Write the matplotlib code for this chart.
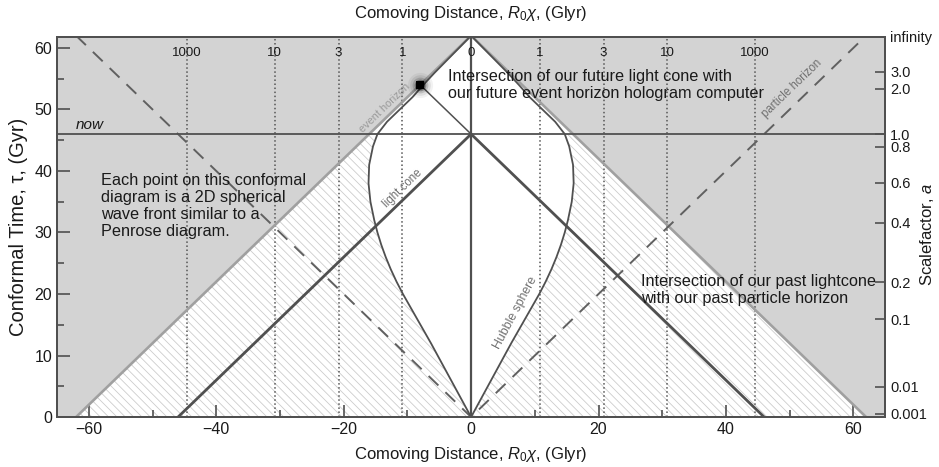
import numpy as np
import matplotlib.pyplot as plt

plt.rcParams['font.family'] = ['Liberation Sans', 'DejaVu Sans']
plt.rcParams['mathtext.fontset'] = 'custom'
plt.rcParams['mathtext.rm'] = 'Liberation Sans'
plt.rcParams['mathtext.it'] = 'Liberation Sans:italic'
plt.rcParams['hatch.linewidth'] = 0.6

# conformal time of the event horizon apex and of today (Gyr)
tau_end = 62
tau_now = 46
# point where our future light cone meets the event horizon
star_chi = -8
star_tau = 54

# redshift lines (top labels) and their comoving distance
redshift_labels = ['1000', '10', '3', '1', '0', '1', '3', '10', '1000']
redshift_chi = [-44.6, -30.8, -20.8, -10.8, 0, 10.8, 20.8, 30.8, 44.6]

# scalefactor axis on the right
scale_tau = [0.5, 4.9, 15.9, 21.9, 31.6, 38.1, 43.9, 46, 53.4, 56.1, 61.8]
scale_labels = ['0.001', '0.01', '0.1', '0.2', '0.4', '0.6', '0.8', '1.0', '2.0', '3.0', 'infinity']

# Hubble sphere
hubble_tau = [0, 4, 8, 12, 16, 18, 20, 22, 24, 26, 28, 30, 32, 35, 38, 41, 44, 46, 48, 50, 52, 54, 56, 58, 60, 61.8]
hubble_chi = [0, 2.1, 4.2, 6.3, 8.5, 9.6, 10.7, 11.7, 12.6, 13.4, 14.1, 14.7, 15.2, 15.8, 16.1, 16.0, 15.4, 14.7, 13.2, 11.2, 9.2, 7.5, 5.7, 3.8, 1.9, 0.2]

dark = '#505050'
txt = '#1a1a1a'

fig = plt.figure(figsize=(9.39, 4.67), dpi=100)
ax = fig.add_axes([0.0607, 0.107, 0.882, 0.814])
ax.set_xlim(-65, 65)
ax.set_ylim(0, 61.8)
ax.set_facecolor('#d3d3d3')

# inside the event horizon
ax.fill([-tau_end, 0, tau_end], [0, tau_end, 0], color='white', zorder=0.5)
# hatched part below now
d = tau_end - tau_now
ax.fill([-tau_end, -d, d, tau_end], [0, tau_now, tau_now, 0], facecolor='white',
        edgecolor='#cccccc', hatch='\\\\\\\\', linewidth=0, zorder=0.6)
# inside the Hubble sphere
hc = np.array(hubble_chi)
ht = np.array(hubble_tau)
ax.fill(np.r_[-hc, hc[::-1]], np.r_[ht, ht[::-1]], color='white', zorder=0.7)

# lines
ax.plot([-tau_end, 0, tau_end], [0, tau_end, 0], color='#a0a0a0', lw=1.9, zorder=2)
ax.plot([-tau_end, 0, tau_end], [tau_end, 0, tau_end], color='#606060', lw=1.4,
        dashes=(7, 5), zorder=2)
ax.plot([-tau_now, 0, tau_now], [0, tau_now, 0], color=dark, lw=2.0, zorder=3)
ax.plot([0, star_chi], [tau_now, star_tau], color=dark, lw=1.1, zorder=3)
ax.axvline(0, color=dark, lw=1.6, zorder=3)
ax.axhline(tau_now, color=dark, lw=1.3, zorder=3)
for c in redshift_chi:
    if c != 0:
        ax.axvline(c, color='#555555', ls=':', lw=1.1, zorder=1.5)
ax.plot(hc, ht, color=dark, lw=1.3, zorder=3)
ax.plot(-hc, ht, color=dark, lw=1.3, zorder=3)

# glowing dot
for s, a in [(330, 0.05), (220, 0.08), (130, 0.15), (70, 0.3), (40, 0.5)]:
    ax.scatter([star_chi], [star_tau], s=s, color='black', alpha=a, lw=0, zorder=4)
ax.scatter([star_chi], [star_tau], s=28, marker='s', color='black', lw=0, zorder=5)

# redshift labels at top
for c, lab in zip(redshift_chi, redshift_labels):
    ax.text(c, 59.2, lab, ha='center', va='center', fontsize=9.5, color=txt, zorder=6)

ax.text(-62.0, 46.4, 'now', fontsize=11, style='italic', color=txt, va='bottom')
ax.text(-3.6, 56.5, 'Intersection of our future light cone with\nour future event horizon hologram computer',
        fontsize=11.7, color=txt, va='top', linespacing=1.15, zorder=6)
ax.text(-58.1, 39.6, 'Each point on this conformal\ndiagram is a 2D spherical\nwave front similar to a\nPenrose diagram.',
        fontsize=11.7, color=txt, va='top', linespacing=1.15, zorder=6)
ax.text(26.7, 23.2, 'Intersection of our past lightcone\nwith our past particle horizon',
        fontsize=11.7, color=txt, va='top', linespacing=1.15, zorder=6)

ax.text(-13.6, 50.2, 'event horizon', fontsize=7.8, color='#9a9a9a', rotation=44,
        ha='center', va='center', zorder=6)
ax.text(50.4, 53.4, 'particle horizon', fontsize=8.3, color='#707070', rotation=44,
        ha='center', va='center', zorder=6)
ax.text(-10.8, 37.2, 'light cone', fontsize=8.3, color='#707070', rotation=44,
        ha='center', va='center', zorder=6)
ax.text(7.0, 16.9, 'Hubble sphere', fontsize=8.8, color='#707070', rotation=62,
        ha='center', va='center', zorder=6)

# axes
ax.set_xticks(range(-60, 61, 20))
ax.set_xticks(range(-60, 61, 10), minor=True)
ax.set_yticks(range(0, 61, 10))
ax.set_yticks(range(0, 61, 5), minor=True)
ax.tick_params(which='major', direction='in', length=9, width=1.2, colors=dark,
               labelcolor=txt, labelsize=11.5, top=False, right=False)
ax.tick_params(which='minor', direction='in', length=5, width=1.2, colors=dark,
               top=False, right=False)
for sp in ax.spines.values():
    sp.set_color(dark)
    sp.set_linewidth(1.4)

fig.text(0.5015, 0.026, r'Comoving Distance, $R_0\chi$, (Glyr)', fontsize=12, color=txt,
         ha='center', va='center')
fig.text(0.5015, 0.972, r'Comoving Distance, $R_0\chi$, (Glyr)', fontsize=12, color=txt,
         ha='center', va='center')
ax.set_ylabel('Conformal Time, τ, (Gyr)', fontsize=14.5, color=txt, va='center')
ax.yaxis.set_label_coords(-0.047, 0.5)

ax2 = ax.twinx()
ax2.set_ylim(ax.get_ylim())
ax2.set_yticks(scale_tau, scale_labels)
ax2.tick_params(direction='in', length=7, width=1.2, colors=dark, labelcolor=txt,
                labelsize=10.5)
ax2.set_ylabel('Scalefactor, $a$', fontsize=12, color=txt, va='center')
ax2.yaxis.set_label_coords(1.05, 0.48)
for sp in ax2.spines.values():
    sp.set_color(dark)
    sp.set_linewidth(1.4)

fig.savefig('out.png', dpi=100)
